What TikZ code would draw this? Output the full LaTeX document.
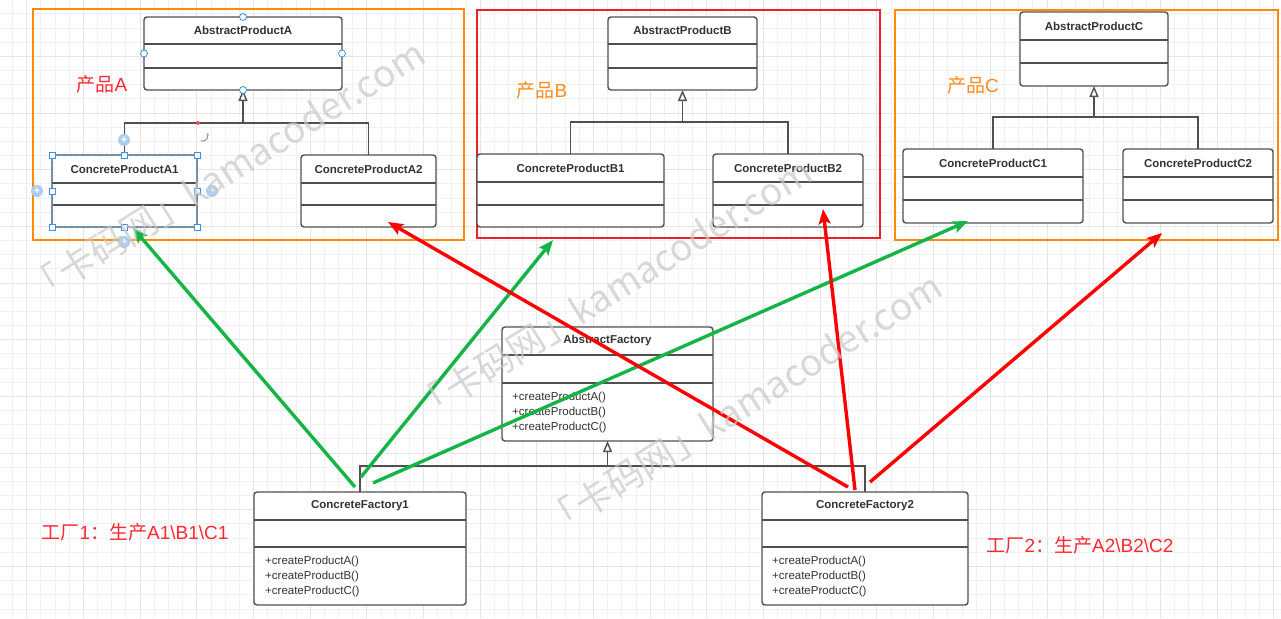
\documentclass[tikz,border=0pt]{standalone}
\usepackage{fontspec}
\setmainfont{Liberation Sans}
\newfontfamily\cjk{Noto Sans CJK SC}
\usetikzlibrary{arrows.meta}

\definecolor{boxline}{RGB}{80,80,80}
\definecolor{txt}{RGB}{51,51,51}
\definecolor{frameorange}{RGB}{255,140,0}
\definecolor{framered}{RGB}{240,30,40}
\definecolor{linkgreen}{RGB}{20,180,70}
\definecolor{linkred}{RGB}{255,0,0}
\definecolor{lblred}{RGB}{255,40,50}
\definecolor{lblorange}{RGB}{255,140,30}
\definecolor{selblue}{RGB}{60,145,230}
\definecolor{selplus}{RGB}{170,205,245}
\definecolor{gridminor}{RGB}{241,241,241}
\definecolor{gridmajor}{RGB}{229,229,229}
\definecolor{wmark}{RGB}{200,200,200}

\tikzset{
  classbox/.style={draw=boxline, line width=1.4pt, rounded corners=3pt, fill=white,
                   inner sep=0pt, outer sep=0pt},
  divider/.style={draw=boxline, line width=1.4pt},
  classtitle/.style={font=\fontsize{11.5}{13}\selectfont\bfseries, text=txt, inner sep=0pt},
  methods/.style={font=\fontsize{11.5}{15}\selectfont, text=txt, align=left,
                  inner sep=0pt, anchor=west},
  generalize/.style={draw=boxline, line width=1.4pt,
                     -{Triangle[open, length=11pt, width=9pt, fill=white]}},
  groupframe/.style={line width=1.5pt, inner sep=0pt, outer sep=0pt, anchor=north west},
  greenlink/.style={draw=linkgreen, line width=3.4pt,
                    -{Stealth[length=15pt, width=12pt, inset=3pt]}},
  redlink/.style={draw=linkred, line width=3.4pt,
                  -{Stealth[length=15pt, width=12pt, inset=3pt]}},
  grouplabel/.style={font=\fontsize{19}{19}\selectfont, inner sep=0pt},
  handle/.style={draw=selblue, fill=white, line width=0.8pt, minimum size=6pt,
                 inner sep=0pt, rectangle},
  port/.style={draw=selblue, fill=white, line width=0.8pt, minimum size=7pt,
               inner sep=0pt, circle},
  plushandle/.style={circle, fill=selplus, text=white, minimum size=12pt, inner sep=0pt,
                     font=\fontsize{11}{11}\selectfont\bfseries},
  wmtext/.style={font={\cjk\fontsize{37}{37}\selectfont}, text=wmark, text opacity=0.7,
                 inner sep=0pt, rotate=32}
}

% name, left, top, right, bottom, first divider, second divider, title
\newcommand\umlclass[8]{%
  \node[classbox, minimum width={#4-#2}, minimum height={#5-#3}, anchor=north west]
       (#1) at (#2,#3) {};
  \draw[divider] (#2,#6) -- (#4,#6);
  \draw[divider] (#2,#7) -- (#4,#7);
  \node[classtitle] (#1-title) at ({(#2+#4)/2},{(#3+#6)/2}) {#8};
}

\begin{document}
\begin{tikzpicture}[x=1pt, y=-1pt]
\useasboundingbox (0,0) rectangle (1281,618);
\fill[white] (0,0) rectangle (1281,618);

% background grid
\foreach \k in {-1,...,89} {
  \pgfmathsetmacro\gx{26.7+14.17*\k}
  \pgfmathtruncatemacro\km{mod(\k+4,4)}
  \ifnum\km=0 \draw[gridmajor, line width=0.9pt] (\gx,0) -- (\gx,618);
  \else \draw[gridminor, line width=0.8pt] (\gx,0) -- (\gx,618); \fi
}
\foreach \j in {1,...,43} {
  \pgfmathsetmacro\gy{-0.4+14.17*\j}
  \pgfmathtruncatemacro\jm{mod(\j,4)}
  \ifnum\jm=0 \draw[gridmajor, line width=0.9pt] (0,\gy) -- (1281,\gy);
  \else \draw[gridminor, line width=0.8pt] (0,\gy) -- (1281,\gy); \fi
}

% product family frames
\node[groupframe, draw=frameorange, minimum width=431, minimum height=231] (grpA) at (33,9) {};
\node[groupframe, draw=framered,    minimum width=403, minimum height=228] (grpB) at (477,10) {};
\node[groupframe, draw=frameorange, minimum width=383, minimum height=230] (grpC) at (895,10) {};

% product A hierarchy
\umlclass{apA}{144}{17}{342}{90}{44}{68}{AbstractProductA}
\umlclass{cpA1}{52}{155}{197}{227}{183}{205}{ConcreteProductA1}
\umlclass{cpA2}{301}{155}{436}{227}{183}{205}{ConcreteProductA2}
\coordinate (jA) at (243,123);
\draw[generalize] (cpA1.north) |- (jA) -- (apA.south);
\draw[divider] (cpA2.north) |- (jA);

% product B hierarchy
\umlclass{apB}{608}{17}{757}{90}{44}{68}{AbstractProductB}
\umlclass{cpB1}{477}{154}{664}{227}{182}{205}{ConcreteProductB1}
\umlclass{cpB2}{713}{154}{863}{227}{182}{205}{ConcreteProductB2}
\coordinate (jB) at (682.5,122);
\draw[generalize] (cpB1.north) |- (jB) -- (apB.south);
\draw[divider] (cpB2.north) |- (jB);

% product C hierarchy
\umlclass{apC}{1020}{12}{1168}{86}{40}{63}{AbstractProductC}
\umlclass{cpC1}{903}{149}{1083}{223}{177}{200}{ConcreteProductC1}
\umlclass{cpC2}{1123}{149}{1273}{223}{177}{200}{ConcreteProductC2}
\coordinate (jC) at (1094,117);
\draw[generalize] (cpC1.north) |- (jC) -- (apC.south);
\draw[divider] (cpC2.north) |- (jC);

% factories
\umlclass{af}{502}{327}{713}{441}{355}{383}{AbstractFactory}
\node[methods] (af-ops) at (512,413) {+createProductA()\\+createProductB()\\+createProductC()};
\umlclass{cf1}{254}{492}{466}{605}{520}{547}{ConcreteFactory1}
\node[methods] (cf1-ops) at (265,577) {+createProductA()\\+createProductB()\\+createProductC()};
\umlclass{cf2}{762}{492}{968}{605}{520}{547}{ConcreteFactory2}
\node[methods] (cf2-ops) at (772,577) {+createProductA()\\+createProductB()\\+createProductC()};
\coordinate (jF) at (607.5,466);
\draw[generalize] (cf1.north) |- (jF) -- (af.south);
\draw[divider] (cf2.north) |- (jF);

% labels
\node[grouplabel, text=lblred]    (lblA) at (102,84) {{\cjk 产品}A};
\node[grouplabel, text=lblorange] (lblB) at (542,90) {{\cjk 产品}B};
\node[grouplabel, text=lblorange] (lblC) at (973,85) {{\cjk 产品}C};
\node[grouplabel, text=lblred] (lblF1) at (135,532)
  {{\cjk 工厂}1{\cjk ：生产}A1\textbackslash B1\textbackslash C1};
\node[grouplabel, text=lblred] (lblF2) at (1080,545)
  {{\cjk 工厂}2{\cjk ：生产}A2\textbackslash B2\textbackslash C2};

% which factory creates which product
\coordinate (g1s) at (355,487); \coordinate (g1e) at (133,228);
\coordinate (g2s) at (361,477); \coordinate (g2e) at (553,240);
\coordinate (g3s) at (373,483); \coordinate (g3e) at (968,221);
\coordinate (r1s) at (848,487); \coordinate (r1e) at (388,222);
\coordinate (r2s) at (855,490); \coordinate (r2e) at (823,209);
\coordinate (r3s) at (870,482); \coordinate (r3e) at (1162,233);
\draw[greenlink] (g1s) -- (g1e);
\draw[greenlink] (g2s) -- (g2e);
\draw[greenlink] (g3s) -- (g3e);
\draw[redlink] (r1s) -- (r1e);
\draw[redlink] (r2s) -- (r2e);
\draw[redlink] (r3s) -- (r3e);

% editor selection state
\draw[selblue, dashed, line width=0.8pt] (cpA1.north west) rectangle (cpA1.south east);
\foreach \p in {north west, north, north east, west, east, south west, south, south east}
  \node[handle] at (cpA1.\p) {};
\node[plushandle] (addN) at (124,140) {+};
\node[plushandle] (addW) at (37,191) {+};
\node[plushandle] (addE) at (212,191) {+};
\node[plushandle] (addS) at (124,242) {+};
\draw[color={rgb,255:red,130;green,150;blue,180}, line width=1pt, -{Stealth[length=3pt]}]
  (201,141) arc[start angle=110, end angle=-40, radius=5];
\foreach \p in {north, west, east, south}
  \node[port] at (apA.\p) {};
\fill[red!70] (198,123) circle[radius=2];

% watermark
\node[wmtext] (wm1) at (225,172) {「卡码网」kamacoder.com};
\node[wmtext] (wm2) at (612,290) {「卡码网」kamacoder.com};
\node[wmtext] (wm3) at (742,405) {「卡码网」kamacoder.com};
\end{tikzpicture}
\end{document}
